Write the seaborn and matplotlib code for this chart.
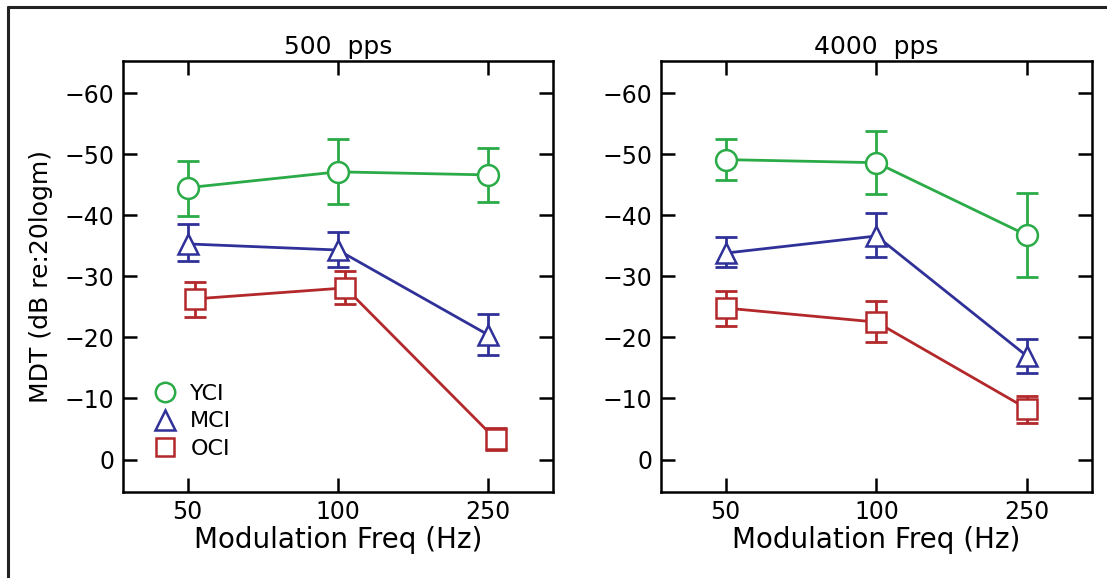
import numpy as np
import pandas as pd
import matplotlib
matplotlib.use("Agg")
import matplotlib.pyplot as plt
import seaborn as sns
from matplotlib.lines import Line2D

sns.set_theme(style="white")
plt.rcParams['font.family'] = ['DejaVu Sans']
plt.rcParams['text.color'] = 'black'
plt.rcParams['axes.labelcolor'] = 'black'

# ---------------- data ----------------
freqs = ["50", "100", "250"]
groups = ["YCI", "MCI", "OCI"]
panels = ["500  pps", "4000  pps"]

# 500 pps
yci_500 = [-44.5, -47.1, -46.6]
yci_500_lo = [-39.9, -41.9, -42.2]
yci_500_hi = [-48.9, -52.4, -51.0]
mci_500 = [-35.3, -34.3, -20.4]
mci_500_lo = [-32.5, -31.6, -17.1]
mci_500_hi = [-38.5, -37.2, -23.9]
oci_500 = [-26.3, -28.1, -3.3]
oci_500_lo = [-23.4, -25.5, -1.5]
oci_500_hi = [-29.1, -30.8, -5.1]

# 4000 pps
yci_4000 = [-49.1, -48.6, -36.7]
yci_4000_lo = [-45.7, -43.4, -29.9]
yci_4000_hi = [-52.5, -53.8, -43.6]
mci_4000 = [-33.8, -36.6, -16.9]
mci_4000_lo = [-31.6, -33.2, -14.1]
mci_4000_hi = [-36.4, -40.4, -19.8]
oci_4000 = [-24.8, -22.5, -8.3]
oci_4000_lo = [-21.8, -19.2, -5.9]
oci_4000_hi = [-27.6, -25.9, -10.4]

y_ticks = [0, -10, -20, -30, -40, -50, -60]

colors = {"YCI": "#2aab47", "MCI": "#2f3198", "OCI": "#b3282a"}
markers = {"YCI": "o", "MCI": "^", "OCI": "s"}
msizes = {"YCI": 15, "MCI": 15, "OCI": 14}

panel_data = {
    panels[0]: {
        "YCI": (yci_500, yci_500_lo, yci_500_hi),
        "MCI": (mci_500, mci_500_lo, mci_500_hi),
        "OCI": (oci_500, oci_500_lo, oci_500_hi),
    },
    panels[1]: {
        "YCI": (yci_4000, yci_4000_lo, yci_4000_hi),
        "MCI": (mci_4000, mci_4000_lo, mci_4000_hi),
        "OCI": (oci_4000, oci_4000_lo, oci_4000_hi),
    },
}
offsets = {panels[0]: {"YCI": 0.0, "MCI": 0.0, "OCI": 0.05},
           panels[1]: {"YCI": 0.0, "MCI": 0.0, "OCI": 0.0}}

rows = []
for p in panels:
    for g in groups:
        m, lo, hi = panel_data[p][g]
        for i, f in enumerate(freqs):
            rows.append(dict(panel=p, group=g, freq=f,
                             x=i + offsets[p][g], mdt=m[i], lo=lo[i], hi=hi[i]))
df = pd.DataFrame(rows)

W, H = 1107, 578
fig = plt.figure(figsize=(W / 100, H / 100), dpi=100)
ax_pos = [[0.111, 0.149, 0.3885, 0.746], [0.597, 0.149, 0.3895, 0.746]]

for k, p in enumerate(panels):
    ax = fig.add_axes(ax_pos[k])
    sub = df[df.panel == p]
    for g in groups:
        d = sub[sub.group == g]
        ax.errorbar(d.x, d.mdt,
                    yerr=[np.abs(d.mdt - d.hi), np.abs(d.lo - d.mdt)],
                    fmt="none", ecolor=colors[g], elinewidth=2.0,
                    capsize=8, capthick=2.0, zorder=2)
        sns.lineplot(data=d, x="x", y="mdt", ax=ax, color=colors[g],
                     marker=markers[g], markersize=msizes[g],
                     markerfacecolor="white", markeredgecolor=colors[g],
                     markeredgewidth=1.8, linewidth=2.0, zorder=3,
                     legend=False, estimator=None, sort=False)
    ax.set_xlim(-0.43, 2.43)
    ax.set_ylim(5.3, -65.3)
    ax.set_xticks(range(len(freqs)))
    ax.set_xticklabels(freqs)
    ax.set_yticks(y_ticks)
    ax.tick_params(direction="in", length=10, width=1.8, labelsize=17,
                   top=True, right=True, bottom=True, left=True, pad=6,
                   colors="black", labelcolor="black")
    for s in ax.spines.values():
        s.set_linewidth(1.8)
        s.set_color("black")
    ax.set_xlabel("Modulation Freq (Hz)", fontsize=20, labelpad=1, color="black")
    ax.set_ylabel("MDT (dB re:20logm)" if k == 0 else "", fontsize=18,
                  labelpad=8, color="black")
    ax.set_title(p, fontsize=18, pad=5, color="black")
    ax.grid(False)
    if k == 0:
        handles = [Line2D([], [], linestyle="none", marker=markers[g],
                          markersize=msizes[g] - 1, markerfacecolor="white",
                          markeredgecolor=colors[g], markeredgewidth=1.8)
                   for g in groups]
        leg = ax.legend(handles, groups, loc="lower left",
                        bbox_to_anchor=(0.025, 0.055),
                        frameon=False, fontsize=16, handletextpad=0.15,
                        labelspacing=0.35, borderaxespad=0.0)
        for t in leg.get_texts():
            t.set_color("black")

# figure frame (top and left edges)
fig.add_artist(Line2D([0.007, 1.0], [1 - 7 / H, 1 - 7 / H], color="#222222",
                      linewidth=2.2, transform=fig.transFigure))
fig.add_artist(Line2D([0.007, 0.007], [0.0, 1 - 7 / H], color="#222222",
                      linewidth=2.2, transform=fig.transFigure))

fig.savefig("out.png", dpi=100, facecolor="white")
